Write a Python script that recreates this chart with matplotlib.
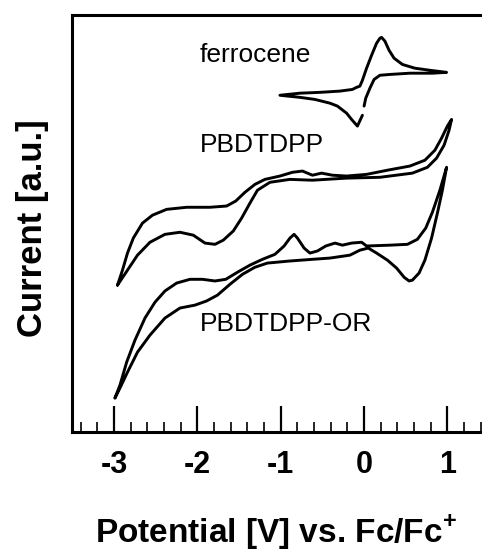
import numpy as np
import matplotlib.pyplot as plt
from matplotlib.ticker import MultipleLocator

plt.rcParams['font.family'] = ['Liberation Sans', 'DejaVu Sans']
plt.rcParams['mathtext.fontset'] = 'custom'
plt.rcParams['mathtext.rm'] = 'Liberation Sans'
plt.rcParams['mathtext.bf'] = 'Liberation Sans:bold'

# cyclic voltammograms, potential [V vs Fc/Fc+] and current [a.u., offset]
fc_E = [-0.02, -0.08, -0.15, -0.21, -0.32, -0.41, -0.59, -0.77, -1.01,
        -0.77, -0.53, -0.29, -0.14, -0.09, -0.05, -0.02, 0.03, 0.09, 0.15,
        0.19, 0.21, 0.25, 0.30, 0.36, 0.46, 0.61, 0.79, 0.99,
        0.82, 0.55, 0.31, 0.19, 0.12, 0.07, 0.02, 0.00]
fc_I = [7.60, 7.34, 7.50, 7.65, 7.82, 7.89, 7.98, 8.03, 8.08,
        8.13, 8.15, 8.18, 8.22, 8.27, 8.30, 8.44, 8.73, 9.04, 9.33,
        9.45, 9.47, 9.38, 9.16, 8.97, 8.82, 8.73, 8.68, 8.63,
        8.61, 8.61, 8.58, 8.56, 8.46, 8.25, 8.01, 7.82]

pb_E = [-2.96, -2.90, -2.84, -2.77, -2.66, -2.54, -2.37, -2.13, -1.85, -1.65,
        -1.54, -1.43, -1.31, -1.19, -1.01, -0.86, -0.74, -0.62, -0.51, -0.38,
        -0.21, 0.03, 0.28, 0.55, 0.73, 0.85, 0.93, 1.00, 1.05,
        1.02, 0.96, 0.87, 0.76, 0.58, 0.19, -0.21, -0.62, -0.89, -1.13,
        -1.28, -1.37, -1.47, -1.57, -1.69, -1.79, -1.91, -2.05, -2.21, -2.39,
        -2.57, -2.72, -2.84, -2.96]
pb_I = [3.52, 3.88, 4.29, 4.65, 5.01, 5.20, 5.34, 5.39, 5.39, 5.42,
        5.54, 5.75, 5.94, 6.06, 6.14, 6.23, 6.26, 6.16, 6.21, 6.16,
        6.14, 6.18, 6.28, 6.38, 6.52, 6.76, 7.05, 7.34, 7.50,
        7.24, 6.88, 6.57, 6.35, 6.21, 6.11, 6.09, 6.04, 6.06, 5.99,
        5.80, 5.49, 5.13, 4.82, 4.60, 4.50, 4.53, 4.72, 4.79, 4.74,
        4.55, 4.24, 3.88, 3.52]

or_E = [-2.99, -2.93, -2.85, -2.75, -2.63, -2.51, -2.39, -2.25, -2.09, -1.94,
        -1.79, -1.66, -1.52, -1.37, -1.22, -1.07, -0.96, -0.89, -0.84, -0.80,
        -0.72, -0.65, -0.56, -0.46, -0.35, -0.26, -0.15, -0.03, 0.03, 0.31,
        0.52, 0.64, 0.74, 0.82, 0.91, 0.99,
        0.94, 0.88, 0.81, 0.73, 0.66, 0.58, 0.54, 0.48, 0.39, 0.28,
        0.15, 0.05, -0.05, -0.17, -0.41, -0.62, -0.89, -1.16, -1.31, -1.46,
        -1.61, -1.76, -1.89, -2.03, -2.21, -2.39, -2.57, -2.72, -2.84, -2.93,
        -2.99]
or_I = [0.81, 1.12, 1.67, 2.20, 2.73, 3.11, 3.38, 3.57, 3.66, 3.66,
        3.62, 3.66, 3.83, 4.00, 4.14, 4.26, 4.46, 4.65, 4.74, 4.65,
        4.41, 4.29, 4.34, 4.46, 4.53, 4.48, 4.53, 4.55, 4.46, 4.48,
        4.50, 4.62, 4.89, 5.27, 5.80, 6.35,
        5.80, 5.25, 4.65, 4.12, 3.81, 3.64, 3.62, 3.71, 3.93, 4.12,
        4.29, 4.41, 4.36, 4.24, 4.17, 4.14, 4.10, 4.05, 3.95, 3.78,
        3.54, 3.28, 3.14, 3.04, 2.97, 2.73, 2.32, 1.91, 1.43, 1.05,
        0.81]

labels = ['ferrocene', 'PBDTDPP', 'PBDTDPP-OR']
label_pos = [(-1.97, 9.04), (-1.97, 6.88), (-1.97, 2.58)]

fig = plt.figure(figsize=(4.82, 5.51), dpi=100)
ax = fig.add_axes([0.1487, 0.2165, 0.8832, 0.7557])

for E, I in [(fc_E, fc_I), (pb_E, pb_I), (or_E, or_I)]:
    ax.plot(E, I, color='black', lw=2.1, solid_joinstyle='round',
            solid_capstyle='round')

for txt, (x, y) in zip(labels, label_pos):
    ax.text(x, y, txt, fontsize=19, ha='left', va='center')

ax.set_xlim(-3.51, 1.6)
ax.set_ylim(0, 10)
ax.set_xticks([-3, -2, -1, 0, 1])
ax.set_xticklabels(['-3', '-2', '-1', '0', '1'], fontweight='bold')
ax.xaxis.set_minor_locator(MultipleLocator(0.2))
ax.tick_params(axis='x', which='major', direction='in', length=18.5,
               width=1.6, labelsize=22, pad=13)
ax.tick_params(axis='x', which='minor', direction='in', length=7, width=1.2)
ax.set_yticks([])
ax.spines['right'].set_visible(False)
for s in ['left', 'top', 'bottom']:
    ax.spines[s].set_linewidth(2.2)

fig.text(276 / 482, 0.0145, r'Potential [V] vs. Fc/Fc$^{\mathbf{+}}$',
         fontsize=24, fontweight='bold', ha='center', va='baseline')
fig.text(0.0865, 0.586, 'Current [a.u.]', fontsize=25, fontweight='bold',
         rotation=90, rotation_mode='anchor', ha='center', va='baseline')

fig.savefig('out.png', dpi=100)
